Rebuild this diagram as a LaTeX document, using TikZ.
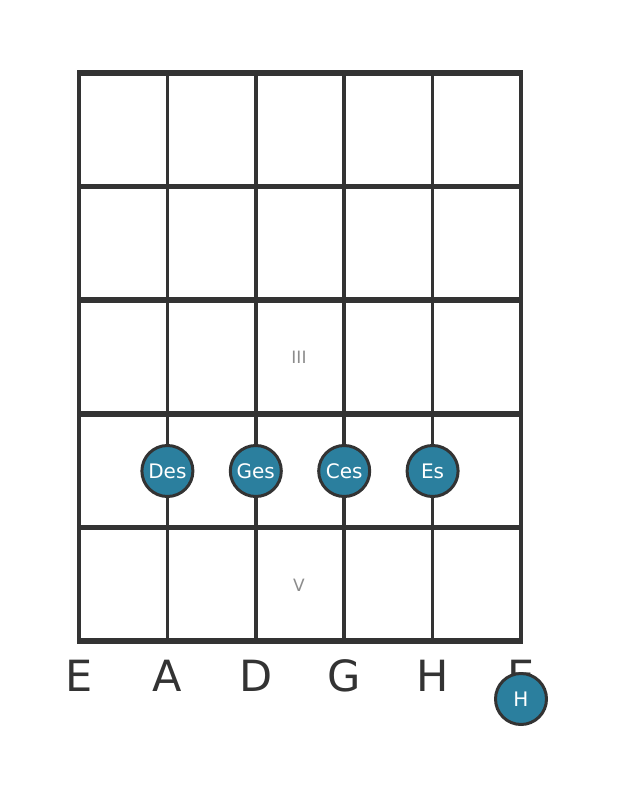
\documentclass[tikz,border=0pt]{standalone}
\usepackage{fontspec}
\setmainfont{DejaVu Sans}
\usetikzlibrary{positioning}
\definecolor{gridcolor}{RGB}{51,51,51}
\definecolor{notecolor}{RGB}{43,127,158}
\definecolor{markcolor}{RGB}{140,140,140}

\begin{document}
\begin{tikzpicture}[x=1pt,y=-1pt,
  string/.style={gridcolor, line width=3.5pt},
  fret/.style={gridcolor, line width=5.5pt},
  note/.style={circle, draw=gridcolor, line width=3pt, fill=notecolor,
    minimum size=51pt, inner sep=0pt, text=white,
    font=\fontsize{20}{24}\selectfont},
  tuning/.style={anchor=base, text=gridcolor, font=\fontsize{43}{48}\selectfont},
  fretmark/.style={text=markcolor, font=\fontsize{17}{20}\selectfont}]
\useasboundingbox (0,0) rectangle (620,797);
% strings and frets
\foreach \i in {0,...,5}
    \draw[string] ({79+88.4*\i},73) -- ({79+88.4*\i},641);
\foreach \j in {0,...,5}
    \draw[fret] (77.25,{73+113.6*\j}) -- (522.75,{73+113.6*\j});
% position marks
\node[fretmark] (mark3) at (299,357) {III};
\node[fretmark] (mark5) at (299,585) {V};
% open strings
\foreach \s [count=\i from 0] in {E,A,D,G,H,E}
    \node[tuning] (open\i) at ({79+88.4*\i},691) {\s};
% notes
\foreach \n [count=\i] in {Des,Ges,Ces,Es}
    \node[note] (note\i) at ({79+88.4*\i},471) {\n};
\node[note] (noteH) at (521,699) {H};
\end{tikzpicture}
\end{document}
